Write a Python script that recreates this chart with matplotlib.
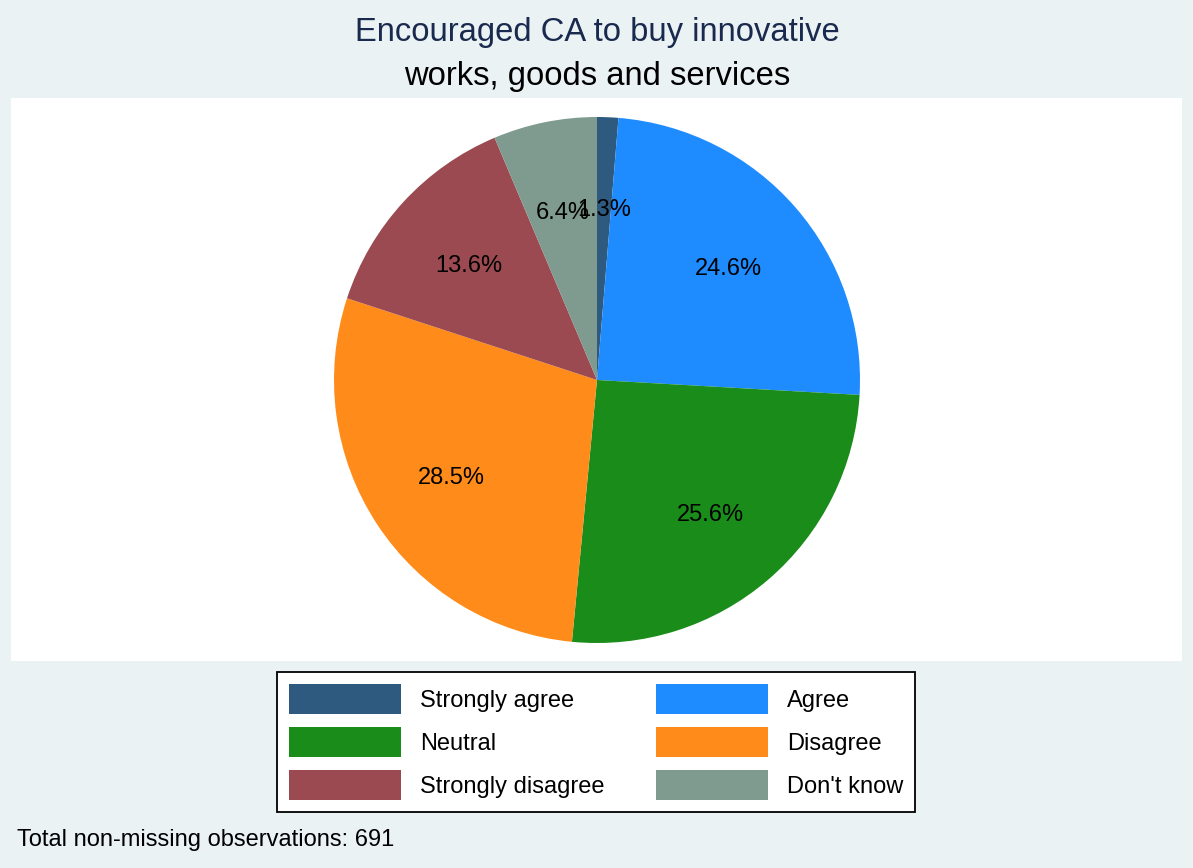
import numpy as np
import matplotlib.pyplot as plt

plt.rcParams['font.family'] = ['Liberation Sans', 'DejaVu Sans']

# data
labels = ["Strongly agree", "Agree", "Neutral", "Disagree", "Strongly disagree", "Don't know"]
counts = [9, 170, 177, 197, 94, 44]
colors = ["#2e5a80", "#1e8cff", "#1a8c1a", "#ff8c1a", "#9a4a50", "#7f9a8f"]
total_obs = 691

W, H = 1193, 868
fig = plt.figure(figsize=(W / 100, H / 100), dpi=100)
fig.patch.set_facecolor("#eaf2f3")

# plot area (white) in pixels
left, top, right, bottom = 11, 98, 1182, 661
ax = fig.add_axes([left / W, 1 - bottom / H, (right - left) / W, (bottom - top) / H])

r = 263.0
cx, cy = 597, 380
wedges, texts, autotexts = ax.pie(
    counts, colors=colors, startangle=90, counterclock=False,
    autopct="%1.1f%%", pctdistance=0.66, radius=1,
    wedgeprops=dict(linewidth=0), textprops=dict(fontsize=17, color="black"))
# nudge labels a few pixels down
for t in autotexts:
    x, y = t.get_position()
    t.set_position((x, y - 3 / r))
ax.set_aspect("auto")
ax.set_xlim(-(cx - left) / r, (right - cx) / r)
ax.set_ylim(-(bottom - cy) / r, (cy - top) / r)
ax.set_frame_on(True)
ax.set_facecolor("white")
for s in ax.spines.values():
    s.set_visible(False)
ax.set_xticks([])
ax.set_yticks([])

# title
fig.text(597 / W, 1 - 33 / H, "Encouraged CA to buy innovative", ha="center", va="center",
         fontsize=23.6, color="#1a2a4e")
fig.text(597 / W, 1 - 76 / H, "works, goods and services", ha="center", va="center",
         fontsize=23.6, color="black")

# legend, filled row by row like the original
order = [0, 2, 4, 1, 3, 5]
leg = fig.legend([wedges[i] for i in order], [labels[i] for i in order], ncol=2,
                 loc="upper center", bbox_to_anchor=(596 / W, 1 - 672 / H),
                 fontsize=17, frameon=True, fancybox=False, shadow=False, framealpha=1,
                 handlelength=4.74, handleheight=1.6, handletextpad=0.8,
                 columnspacing=2.2, labelspacing=0.54, borderpad=0.5, borderaxespad=0)
leg.get_frame().set_edgecolor("black")
leg.get_frame().set_linewidth(1.3)
leg.get_frame().set_facecolor("white")

fig.text(17 / W, 1 - 840 / H, "Total non-missing observations: %d" % total_obs,
         ha="left", va="center", fontsize=17, color="black")

fig.savefig("out.png", dpi=100, facecolor=fig.get_facecolor())
